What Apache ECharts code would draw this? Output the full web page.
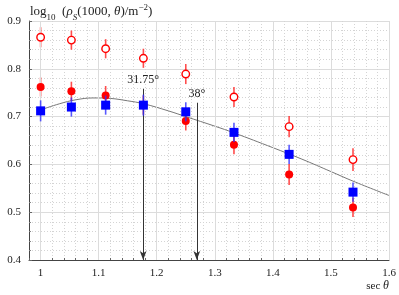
<!DOCTYPE html>
<html><head><meta charset="utf-8">
<script src="https://cdn.jsdelivr.net/npm/echarts@6/dist/echarts.min.js"></script>
<style>html,body{margin:0;padding:0;background:#fff}#c{width:399px;height:295px}</style>
</head><body><div id="c"></div>
<script>
const secTheta = [1.0, 1.053, 1.112, 1.177, 1.25, 1.333, 1.428, 1.538];
const openRed = [0.866, 0.860, 0.842, 0.822, 0.789, 0.741, 0.679, 0.610];
const openRedErr = [0.021, 0.020, 0.020, 0.020, 0.021, 0.021, 0.022, 0.024];
const filledRed = [0.762, 0.753, 0.744, 0.724, 0.691, 0.641, 0.579, 0.510];
const filledRedErr = [0.020, 0.020, 0.020, 0.020, 0.020, 0.020, 0.022, 0.020];
const blueSq = [0.712, 0.720, 0.724, 0.724, 0.710, 0.667, 0.621, 0.542];
const blueSqErr = [0.022, 0.020, 0.020, 0.022, 0.020, 0.020, 0.020, 0.020];
const fitX = [1.0, 1.033, 1.06, 1.09, 1.12, 1.15, 1.177, 1.22, 1.25, 1.3, 1.333, 1.4, 1.45, 1.5, 1.538, 1.6];
const fitY = [0.714, 0.727, 0.735, 0.739, 0.738, 0.733, 0.727, 0.712, 0.700, 0.680, 0.666, 0.635, 0.611, 0.585, 0.565, 0.535];
const arrowX = [1.1766, 1.2690];
const arrowTop = [0.758, 0.729];
const arrowLabels = ['31.75°', '38°'];
const xMajor = [1.0, 1.1, 1.2, 1.3, 1.4, 1.5, 1.6];

const FONT = 'Liberation Serif';
const chart = echarts.init(document.getElementById('c'));

function errData(vals, errs) {
  return secTheta.map((x, i) => [x, vals[i] - errs[i], vals[i] + errs[i]]);
}
function errSeries(vals, errs, color, z) {
  return {
    type: 'custom', z: z, silent: true,
    data: errData(vals, errs),
    encode: { x: 0, y: [1, 2] },
    renderItem: function (params, api) {
      const p1 = api.coord([api.value(0), api.value(1)]);
      const p2 = api.coord([api.value(0), api.value(2)]);
      return { type: 'line', shape: { x1: p1[0], y1: p1[1], x2: p2[0], y2: p2[1] },
        style: { stroke: color, lineWidth: 1.6, opacity: 0.8 } };
    }
  };
}
function isMajor(v) { return Math.abs(v * 10 - Math.round(v * 10)) < 1e-6; }

const option = {
  animation: false,
  grid: { left: 29, right: 10, top: 21, bottom: 35 },
  xAxis: {
    type: 'value', min: 0.98, max: 1.6, interval: 0.02,
    name: '{a|sec }{i|θ}', nameLocation: 'end', nameGap: 0,
    nameTextStyle: { align: 'right', verticalAlign: 'top', padding: [20, 0, 0, 0],
      rich: {
        a: { fontFamily: FONT, fontSize: 11, color: '#222' },
        i: { fontFamily: FONT, fontSize: 12, fontStyle: 'italic', color: '#222' }
      } },
    axisLine: { show: true, onZero: false, lineStyle: { color: '#444', width: 1 } },
    axisTick: { show: true, inside: true, length: 2, lineStyle: { color: '#666' } },
    axisLabel: { fontFamily: FONT, fontSize: 11, color: '#222', margin: 8,
      formatter: v => isMajor(v) ? String(Math.round(v * 10) / 10) : '' },
    splitLine: { show: true, lineStyle: { color: '#d4d4d4', type: [1, 2], width: 1 } }
  },
  yAxis: {
    type: 'value', min: 0.4, max: 0.9, interval: 0.1,
    name: '{a|log}{n|10}{a|  (}{i|ρ}{s|S}{a|(1000, }{i|θ}{a|)/m}{p|−2}{a|)}',
    nameLocation: 'end', nameGap: 9,
    nameTextStyle: {
      align: 'left', verticalAlign: 'middle', padding: [0, 0, 0, 1],
      rich: {
        a: { fontFamily: FONT, fontSize: 13, color: '#222', lineHeight: 16, verticalAlign: 'middle' },
        i: { fontFamily: FONT, fontSize: 13, fontStyle: 'italic', color: '#222', lineHeight: 16, verticalAlign: 'middle' },
        n: { fontFamily: FONT, fontSize: 9, color: '#222', lineHeight: 16, verticalAlign: 'bottom', padding: [0, 0, -2, 0] },
        s: { fontFamily: FONT, fontSize: 9, fontStyle: 'italic', color: '#222', lineHeight: 16, verticalAlign: 'bottom', padding: [0, 0, -2, 0] },
        p: { fontFamily: FONT, fontSize: 9, color: '#222', lineHeight: 16, verticalAlign: 'top', padding: [-1, 0, 0, 0] }
      }
    },
    axisLine: { show: true, lineStyle: { color: '#444', width: 1 } },
    axisTick: { show: true, inside: true, length: 3, lineStyle: { color: '#666' } },
    minorTick: { show: true, splitNumber: 5, length: 2, lineStyle: { color: '#888' } },
    axisLabel: { fontFamily: FONT, fontSize: 11, color: '#222', margin: 8, formatter: v => v.toFixed(1) },
    splitLine: { show: true, lineStyle: { color: '#dcdcdc', width: 1 } },
    minorSplitLine: { show: true, lineStyle: { color: '#d4d4d4', type: [1, 2], width: 1 } }
  },
  series: [
    { type: 'line', data: [], z: 1, silent: true,
      markLine: { silent: true, symbol: 'none', animation: false,
        lineStyle: { color: '#dcdcdc', type: 'solid', width: 1 }, label: { show: false },
        data: xMajor.map(v => ({ xAxis: v })) } },
    { type: 'line', smooth: 0.4, symbol: 'none', z: 2, silent: true,
      data: fitX.map((x, i) => [x, fitY[i]]),
      lineStyle: { color: '#777', width: 1 } },
    { type: 'line', data: [], z: 3, silent: true,
      markLine: { silent: true, symbol: ['none', 'arrow'], symbolSize: [5, 9], animation: false,
        lineStyle: { color: '#333', type: 'solid', width: 1 },
        label: { show: true, position: 'start', distance: 3, fontFamily: FONT, fontSize: 12, color: '#222' },
        data: arrowX.map((x, i) => [
          { coord: [x, arrowTop[i]], label: { formatter: arrowLabels[i] } },
          { coord: [x, 0.4] }
        ]) } },
    errSeries(filledRed, filledRedErr, '#ff2020', 4),
    errSeries(openRed, openRedErr, '#ff2020', 4),
    { type: 'scatter', z: 5, symbol: 'circle', symbolSize: 8,
      data: secTheta.map((x, i) => [x, filledRed[i]]),
      itemStyle: { color: '#ff0000', opacity: 1 } },
    { type: 'scatter', z: 5, symbol: 'circle', symbolSize: 7.5,
      data: secTheta.map((x, i) => [x, openRed[i]]),
      itemStyle: { color: '#ffffff', borderColor: '#ff0000', borderWidth: 1.4, opacity: 1 } },
    errSeries(blueSq, blueSqErr, '#3030ff', 6),
    { type: 'scatter', z: 7, symbol: 'rect', symbolSize: 9,
      data: secTheta.map((x, i) => [x, blueSq[i]]),
      itemStyle: { color: '#0000ff', opacity: 1 } }
  ]
};
chart.setOption(option);
</script>
</body></html>
